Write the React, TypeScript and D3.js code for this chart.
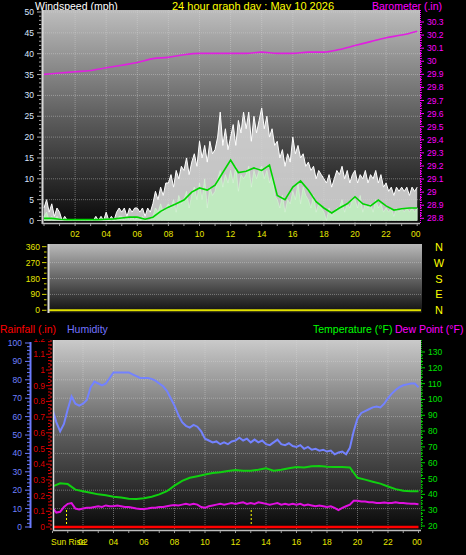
import React from "react";
import * as d3 from "d3";

const FONT = "'Liberation Sans', Arial, sans-serif";

// ---------- DATA ----------
const hourLabels = ["02", "04", "06", "08", "10", "12", "14", "16", "18", "20", "22", "00"];
const hourTicks = [2, 4, 6, 8, 10, 12, 14, 16, 18, 20, 22, 24];

// wind gust (mph), 10-minute samples 00:00..24:00
const windGust = [
  3, 5, 2, 4, 1, 3, 2, 0, 1, 0, 0, 0, 0, 0, 0, 0, 0, 0, 0, 0, 1, 0, 1, 0,
  2, 0, 1, 0, 2, 3, 2, 3, 1, 3, 2, 3, 3, 2, 3, 1, 3, 2, 4, 7, 5, 8, 6, 9,
  9, 11, 8, 12, 10, 13, 12, 15, 11, 14, 16, 13, 19, 15, 18, 14, 19, 16, 17, 20, 26, 18, 22, 17,
  20, 23, 18, 24, 21, 26, 22, 26, 19, 25, 21, 24, 27, 22, 25, 20, 22, 18, 19, 15, 17, 13, 16, 14,
  20, 16, 18, 15, 16, 13, 14, 12, 13, 10, 12, 11, 10, 9, 11, 8, 10, 12, 11, 13, 10, 12, 9, 11,
  12, 9, 11, 10, 12, 9, 11, 10, 12, 9, 11, 8, 9, 7, 8, 6, 8, 7, 8, 7, 8, 6, 8, 7, 8,
];
// wind speed (mph), 10-minute samples
const windSpeed = [
  1, 2, 0, 1, 0, 1, 0, 0, 0, 0, 0, 0, 0, 0, 0, 0, 0, 0, 0, 0, 0, 0, 0, 0,
  0, 0, 0, 0, 0, 1, 1, 0, 1, 0, 1, 0, 1, 0, 1, 0, 0, 0, 1, 3, 2, 4, 2, 3,
  4, 3, 5, 2, 6, 4, 5, 7, 3, 6, 8, 5, 9, 5, 10, 3, 8, 6, 7, 10, 12, 8, 11, 9,
  12, 9, 13, 7, 11, 10, 11, 13, 8, 12, 10, 12, 13, 10, 12, 9, 11, 6, 5, 3, 6, 2, 5, 4,
  7, 5, 9, 4, 8, 6, 5, 3, 6, 2, 4, 3, 2, 0, 3, 1, 2, 3, 3, 5, 2, 4, 3, 5,
  5, 3, 6, 2, 4, 3, 4, 2, 5, 3, 4, 2, 3, 2, 3, 1, 3, 2, 3, 2, 3, 2, 3, 2, 3,
];
// average wind (mph), 30-minute samples
const windAvg = [
  0.5, 0.5, 0.3, 0.2, 0.2, 0.2, 0.2, 0.2, 0.3, 0.4, 0.6, 0.8, 0.8, 0.3, 0.8, 2.2, 3.2, 4, 4.9, 6.8,
  7.8, 7.3, 8.5, 11.5, 14.5, 11.5, 11.8, 12.6, 12, 13.3, 6, 5, 8, 9.5, 7.3, 4.5, 3, 1.8, 3, 4,
  5.7, 4, 3.5, 4.9, 3.5, 2.5, 2.8, 3, 3,
];
// barometer (in), hourly
const barometer = [
  29.9, 29.91, 29.92, 29.93, 29.95, 29.97, 29.99, 30.02, 30.03, 30.05, 30.06, 30.06, 30.06,
  30.06, 30.07, 30.06, 30.06, 30.07, 30.07, 30.09, 30.12, 30.15, 30.18, 30.2, 30.23,
];
// wind direction (deg), hourly
const windDir = [0, 0, 0, 0, 0, 0, 0, 0, 0, 0, 0, 0, 0, 0, 0, 0, 0, 0, 0, 0, 0, 0, 0, 0, 0];

// humidity (%), 15-minute samples
const humidity = [
  64, 57, 52, 56, 64, 71, 67, 66, 67, 69, 76, 79, 78, 77, 78, 81, 84, 84, 84, 84, 84, 83, 82, 81,
  81, 81, 80.5, 79.5, 78, 76.5, 74, 70, 66, 61, 57, 55, 54, 55.5, 54.5, 52, 48, 47, 46, 46.5, 45, 46, 45, 46.5,
  47, 48.5, 47, 48, 46, 47.5, 46, 47, 45, 44.5, 46, 47.5, 45, 44.5, 45.5, 44, 43.5, 44.5, 42.5, 43.5, 42, 42.5, 41.5, 42,
  41, 41.5, 39.5, 40.5, 41, 39.5, 43, 52, 59, 62, 63, 64, 65, 65.5, 65, 67, 70, 72.5, 74.5, 76, 77, 77.5, 78, 78, 76,
];
// temperature (F), 30-minute samples
const temperature = [
  45, 47, 46.5, 43, 42, 41, 40, 39.5, 38.5, 38, 37.2, 37, 37.5, 38.5, 40, 42, 45.5, 48.5, 50.5, 51.5,
  52.5, 53.5, 54, 54.8, 55.4, 55, 55, 55.5, 56.5, 55, 55.5, 56.5, 57.3, 57, 57.8, 58, 57.5, 57.3, 57.3, 57,
  50.5, 49.3, 48, 46.8, 45, 43.3, 42.3, 42, 42,
];
// dew point (F), 15-minute samples
const dewPoint = [
  31.5, 28.5, 29, 32, 34, 34.5, 31, 30.5, 31, 31.5, 31.5, 32, 32.5, 32, 33, 32.5, 32.5, 33, 32.5, 32,
  32, 31.5, 31, 30.8, 30.8, 31, 31.5, 31.5, 32, 32, 32.5, 33, 33.3, 33, 33.5, 34, 33.5, 34, 33.5, 32,
  31.5, 32.5, 33, 33.5, 34, 33.5, 34, 34.5, 34, 34.5, 35, 34, 34.5, 34, 35, 34.5, 34, 33.5, 34, 34.5,
  33.5, 34, 33.5, 34, 33.5, 34, 33, 33.5, 33, 32.5, 33, 32.5, 32, 32.5, 31.5, 30, 31.5, 32.5, 33.5, 36,
  36, 35.5, 35.5, 35, 35, 34.5, 34.5, 34.8, 34.5, 34.5, 35, 34.5, 34.5, 34.3, 34, 34, 33.8,
];
// rainfall (in), hourly
const rainfall = [0, 0, 0, 0, 0, 0, 0, 0, 0, 0, 0, 0, 0, 0, 0, 0, 0, 0, 0, 0, 0, 0, 0, 0, 0];
const sunTimes = [0.92, 13.03];

const windTicks = [0, 5, 10, 15, 20, 25, 30, 35, 40, 45, 50];
const baroTicks = [28.8, 28.9, 29, 29.1, 29.2, 29.3, 29.4, 29.5, 29.6, 29.7, 29.8, 29.9, 30, 30.1, 30.2, 30.3];
const dirTicks = [0, 90, 180, 270, 360];
const dirLetters = ["N", "E", "S", "W", "N"];
const humTicks = [0, 10, 20, 30, 40, 50, 60, 70, 80, 90, 100];
const rainTicks = [0, 0.1, 0.2, 0.3, 0.4, 0.5, 0.6, 0.7, 0.8, 0.9, 1, 1.1, 1.2];
const tempTicks = [20, 30, 40, 50, 60, 70, 80, 90, 100, 110, 120, 130];

type P = { t: number; v: number };
const ser = (vals: number[]): P[] => vals.map((v, i) => ({ t: (i * 24) / (vals.length - 1), v }));
const fmtBaro = (v: number) => String(Math.round(v * 10) / 10);

// ---------- SCALES ----------
const xTop = d3.scaleLinear().domain([0, 24]).range([44, 417.2]);
const yWind = d3.scaleLinear().domain([0, 50]).range([220.5, 12]);
const yBaro = d3.scaleLinear().domain([28.8, 30.3]).range([218.3, 22]);
const xDir = d3.scaleLinear().domain([0, 24]).range([49, 421]);
const yDir = d3.scaleLinear().domain([0, 360]).range([310.3, 246.7]);
const xBot = d3.scaleLinear().domain([0, 24]).range([52.5, 418.5]);
const yHum = d3.scaleLinear().domain([0, 100]).range([527, 343]);
const yRain = d3.scaleLinear().domain([0, 1]).range([527, 370]);
const yTemp = d3.scaleLinear().domain([20, 130]).range([526, 352]);

const TOP = { x0: 43, x1: 420, y0: 10, y1: 223 };
const MID = { x0: 48, x1: 422, y0: 244, y1: 313 };
const BOT = { x0: 53, x1: 421, y0: 340, y1: 530 };

const gridStroke = "rgba(215,215,215,0.42)";

export default function App() {
  const gustArea = d3.area<P>().x((d) => xTop(d.t)).y0(yWind(0)).y1((d) => yWind(d.v))(ser(windGust)) || "";
  const gustLine = d3.line<P>().x((d) => xTop(d.t)).y((d) => yWind(d.v))(ser(windGust)) || "";
  const speedArea = d3.area<P>().x((d) => xTop(d.t)).y0(yWind(0)).y1((d) => yWind(d.v))(ser(windSpeed)) || "";
  const avgLine = d3.line<P>().x((d) => xTop(d.t)).y((d) => yWind(d.v))(ser(windAvg)) || "";
  const baroLine = d3.line<P>().x((d) => xTop(d.t)).y((d) => yBaro(d.v)).curve(d3.curveMonotoneX)(ser(barometer)) || "";
  const dirLine = d3.line<P>().x((d) => xDir(d.t)).y((d) => yDir(d.v))(ser(windDir)) || "";
  const humLine = d3.line<P>().x((d) => xBot(d.t)).y((d) => yHum(d.v))(ser(humidity)) || "";
  const tempLine = d3.line<P>().x((d) => xBot(d.t)).y((d) => yTemp(d.v))(ser(temperature)) || "";
  const dewLine = d3.line<P>().x((d) => xBot(d.t)).y((d) => yTemp(d.v))(ser(dewPoint)) || "";
  const rainLine = d3.line<P>().x((d) => xBot(d.t)).y((d) => yRain(d.v))(ser(rainfall)) || "";

  const windMinor = d3.range(0, 51, 1);
  const baroMinor = d3.range(0, 76).map((i) => 28.8 + i * 0.02);
  const dirMinor = d3.range(0, 361, 30);
  const humMinor = d3.range(0, 101, 2);
  const rainMinor = d3.range(0, 61).map((i) => i * 0.02);
  const tempMinor = d3.range(20, 131, 2);
  const hoursAll = d3.range(0, 25, 1);

  return (
    <svg
      width={466}
      height={555}
      style={{ position: "fixed", left: 0, top: 0, display: "block" }}
      fontFamily={FONT}
    >
      <defs>
        <linearGradient id="gTop" x1="0" y1="0" x2="0" y2="1">
          <stop offset="0" stopColor="#bdbdbd" />
          <stop offset="0.5" stopColor="#5e5e5e" />
          <stop offset="1" stopColor="#0a0a0a" />
        </linearGradient>
        <linearGradient id="gMid" x1="0" y1="0" x2="0" y2="1">
          <stop offset="0" stopColor="#b9b9b9" />
          <stop offset="1" stopColor="#0e0e0e" />
        </linearGradient>
        <linearGradient id="gBot" x1="0" y1="0" x2="0" y2="1">
          <stop offset="0" stopColor="#cacaca" />
          <stop offset="0.5" stopColor="#5c5c5c" />
          <stop offset="1" stopColor="#080808" />
        </linearGradient>
        <clipPath id="cTop">
          <rect x={TOP.x0} y={TOP.y0} width={TOP.x1 - TOP.x0} height={TOP.y1 - TOP.y0} />
        </clipPath>
        <clipPath id="cMid">
          <rect x={MID.x0} y={MID.y0} width={MID.x1 - MID.x0} height={MID.y1 - MID.y0} />
        </clipPath>
        <clipPath id="cBot">
          <rect x={BOT.x0} y={BOT.y0} width={BOT.x1 - BOT.x0} height={BOT.y1 - BOT.y0} />
        </clipPath>
        <clipPath id="cRainLbl">
          <rect x={0} y={339} width={60} height={200} />
        </clipPath>
      </defs>
      <rect x={0} y={0} width={466} height={555} fill="#000" />

      {/* ===== TOP PANEL ===== */}
      <text x={35} y={10} fontSize={10.5} fill="#ffffff">Windspeed (mph)</text>
      <text x={172} y={10} fontSize={11} fill="#ffff00">24 hour graph day : May 10 2026</text>
      <text x={372} y={10} fontSize={10.5} fill="#ff00ff">Barometer (.in)</text>

      <rect x={TOP.x0} y={TOP.y0} width={TOP.x1 - TOP.x0} height={TOP.y1 - TOP.y0} fill="url(#gTop)" />
      <g clipPath="url(#cTop)">
        {windTicks.slice(1).map((w) => (
          <line key={"hw" + w} x1={TOP.x0} x2={TOP.x1} y1={yWind(w)} y2={yWind(w)} stroke={gridStroke} strokeDasharray="1,1" />
        ))}
        {hourTicks.slice(0, 11).map((h) => (
          <line key={"vw" + h} x1={xTop(h)} x2={xTop(h)} y1={TOP.y0} y2={TOP.y1} stroke={gridStroke} strokeDasharray="1,1" />
        ))}
        <path d={gustArea} fill="#d6d6d6" fillOpacity={0.9} />
        <path d={gustLine} fill="none" stroke="#ffffff" strokeWidth={1} />
        <path d={speedArea} fill="#bfeabf" stroke="#d8f8d8" strokeWidth={0.6} />
        <path d={avgLine} fill="none" stroke="#00d400" strokeWidth={1.6} />
        <path d={baroLine} fill="none" stroke="#e020e0" strokeWidth={1.6} />
      </g>
      <line x1={TOP.x0 - 0.5} x2={TOP.x0 - 0.5} y1={TOP.y0} y2={TOP.y1 + 1} stroke="#d8d8d8" strokeWidth={2} />
      <line x1={TOP.x0 - 1} x2={TOP.x1} y1={TOP.y1 + 0.5} y2={TOP.y1 + 0.5} stroke="#bdbdbd" strokeWidth={1.5} />
      {/* left wind axis */}
      {windMinor.map((w) => (
        <line key={"wm" + w} x1={w % 5 === 0 ? 37 : 39} x2={41.5} y1={yWind(w)} y2={yWind(w)} stroke="#a8a8a8" strokeWidth={1} />
      ))}
      {windTicks.map((w) => (
        <text key={"wl" + w} x={34} y={yWind(w) + 3} fontSize={8.5} fill="#dbe6ff" textAnchor="end">{w}</text>
      ))}
      {/* right baro axis */}
      <line x1={420.5} x2={420.5} y1={TOP.y0} y2={TOP.y1} stroke="#ff00ff" strokeWidth={1} strokeDasharray="1,1" />
      {baroMinor.map((b, i) => (
        <line key={"bm" + i} x1={420} x2={i % 5 === 0 ? 424 : 422} y1={yBaro(b)} y2={yBaro(b)} stroke="#ff00ff" strokeWidth={1} />
      ))}
      {baroTicks.map((b) => (
        <text key={"bl" + b} x={427} y={yBaro(b) + 3} fontSize={8.5} fill="#ff00ff">{fmtBaro(b)}</text>
      ))}
      {/* bottom x axis */}
      {hoursAll.map((h) => (
        <line key={"tx" + h} x1={xTop(h)} x2={xTop(h)} y1={TOP.y1 + 1} y2={TOP.y1 + 3} stroke="#9a9a9a" />
      ))}
      {hourTicks.map((h, i) => (
        <text key={"tl" + h} x={xTop(h) - (h === 24 ? 1.5 : 0)} y={237} fontSize={8.5} fill="#e6e600" textAnchor="middle">{hourLabels[i]}</text>
      ))}

      {/* ===== MIDDLE PANEL ===== */}
      <rect x={MID.x0} y={MID.y0} width={MID.x1 - MID.x0} height={MID.y1 - MID.y0} fill="url(#gMid)" />
      <g clipPath="url(#cMid)">
        {dirTicks.slice(1, 4).map((d) => (
          <line key={"hd" + d} x1={MID.x0} x2={MID.x1} y1={yDir(d)} y2={yDir(d)} stroke={gridStroke} strokeDasharray="1,1" />
        ))}
        <path d={dirLine} fill="none" stroke="#e0e000" strokeWidth={2} />
      </g>
      <line x1={MID.x0 + 0.5} x2={MID.x0 + 0.5} y1={MID.y0} y2={MID.y1} stroke="#d8d8d8" strokeWidth={2} />
      {dirMinor.map((d) => (
        <line key={"dm" + d} x1={d % 90 === 0 ? 42 : 44} x2={46.5} y1={yDir(d)} y2={yDir(d)} stroke="#d4d400" strokeWidth={1} />
      ))}
      {dirTicks.map((d) => (
        <text key={"dl" + d} x={40} y={yDir(d) + 3} fontSize={8.5} fill="#e6e600" textAnchor="end">{d}</text>
      ))}
      {dirTicks.map((d, i) => (
        <text key={"dd" + d} x={439} y={yDir(d) + 4} fontSize={11} fill="#ffff00" textAnchor="middle">{dirLetters[i]}</text>
      ))}

      {/* ===== BOTTOM PANEL ===== */}
      <text x={0} y={333} fontSize={10.5} fill="#ff0000">Rainfall (.in)</text>
      <text x={67} y={333} fontSize={10.5} fill="#7373ff">Humidity</text>
      <text x={313} y={333} fontSize={10.5} fill="#00ff00">Temperature (°F)</text>
      <text x={395} y={333} fontSize={10.5} fill="#ff00ff">Dew Point (°F)</text>

      <rect x={BOT.x0} y={BOT.y0} width={BOT.x1 - BOT.x0} height={BOT.y1 - BOT.y0} fill="url(#gBot)" />
      <g clipPath="url(#cBot)">
        {humTicks.slice(1, 10).map((h) => (
          <line key={"hh" + h} x1={BOT.x0} x2={BOT.x1} y1={yHum(h)} y2={yHum(h)} stroke={gridStroke} strokeDasharray="1,1" />
        ))}
        {hourTicks.slice(0, 11).map((h) => (
          <line key={"vb" + h} x1={xBot(h)} x2={xBot(h)} y1={BOT.y0} y2={BOT.y1} stroke={gridStroke} strokeDasharray="1,1" />
        ))}
        {sunTimes.map((s) => (
          <line key={"sun" + s} x1={xBot(s)} x2={xBot(s)} y1={510} y2={BOT.y1} stroke="#ffff00" strokeWidth={1} strokeDasharray="2,2" />
        ))}
        <path d={humLine} fill="none" stroke="#7382ff" strokeWidth={2} />
        <path d={tempLine} fill="none" stroke="#10d010" strokeWidth={2} />
        <path d={dewLine} fill="none" stroke="#e010e0" strokeWidth={2} />
        <path d={rainLine} fill="none" stroke="#ff0000" strokeWidth={2.5} />
      </g>
      <line x1={BOT.x0 + 0.5} x2={BOT.x0 + 0.5} y1={BOT.y0} y2={BOT.y1 + 1} stroke="#dcdcdc" strokeWidth={1.5} />
      <line x1={BOT.x0} x2={BOT.x1} y1={BOT.y1 + 0.5} y2={BOT.y1 + 0.5} stroke="#bdbdbd" strokeWidth={1.5} />
      {/* humidity axis */}
      <line x1={30.5} x2={30.5} y1={yHum(100) - 1} y2={yHum(0) + 1} stroke="#6b7bff" strokeWidth={2} />
      {humMinor.map((h) => (
        <line key={"hm" + h} x1={h % 10 === 0 ? 25 : 27} x2={30} y1={yHum(h)} y2={yHum(h)} stroke="#6b7bff" strokeWidth={1} />
      ))}
      {humTicks.map((h) => (
        <text key={"hl" + h} x={22} y={yHum(h) + 3} fontSize={8.5} fill="#6f80ff" textAnchor="end">{h}</text>
      ))}
      {/* rainfall axis */}
      <line x1={51} x2={51} y1={BOT.y0} y2={BOT.y1} stroke="#ff2020" strokeWidth={1} strokeDasharray="2,2" />
      <g clipPath="url(#cRainLbl)">
        {rainMinor.map((r, i) => (
          <line key={"rm" + i} x1={i % 5 === 0 ? 46 : 48} x2={50.5} y1={yRain(r)} y2={yRain(r)} stroke="#e00000" strokeWidth={1} />
        ))}
        {rainTicks.map((r) => (
          <text key={"rl" + r} x={45} y={yRain(r) + 3} fontSize={8.5} fill="#dd0000" textAnchor="end">{fmtBaro(r)}</text>
        ))}
      </g>
      {/* temperature axis */}
      <line x1={421.5} x2={421.5} y1={BOT.y0} y2={BOT.y1} stroke="#00c000" strokeWidth={1} strokeDasharray="1,1" />
      {tempMinor.map((t) => (
        <line key={"tm" + t} x1={421} x2={t % 10 === 0 ? 425 : 423} y1={yTemp(t)} y2={yTemp(t)} stroke="#00d000" strokeWidth={1} />
      ))}
      {tempTicks.map((t) => (
        <text key={"tl2" + t} x={428} y={yTemp(t) + 3} fontSize={8.5} fill="#00e000">{t}</text>
      ))}
      {/* bottom x axis */}
      {hoursAll.map((h) => (
        <line key={"bx" + h} x1={xBot(h)} x2={xBot(h)} y1={BOT.y1 + 1} y2={BOT.y1 + 3} stroke="#9a9a9a" />
      ))}
      {hourTicks.map((h, i) => (
        <text key={"bl2" + h} x={xBot(h) - (h === 24 ? 1.5 : 0)} y={545} fontSize={8.5} fill="#e6e600" textAnchor="middle">{hourLabels[i]}</text>
      ))}
      <text x={51} y={545} fontSize={8.5} fill="#e6e600">Sun Rise</text>
    </svg>
  );
}
